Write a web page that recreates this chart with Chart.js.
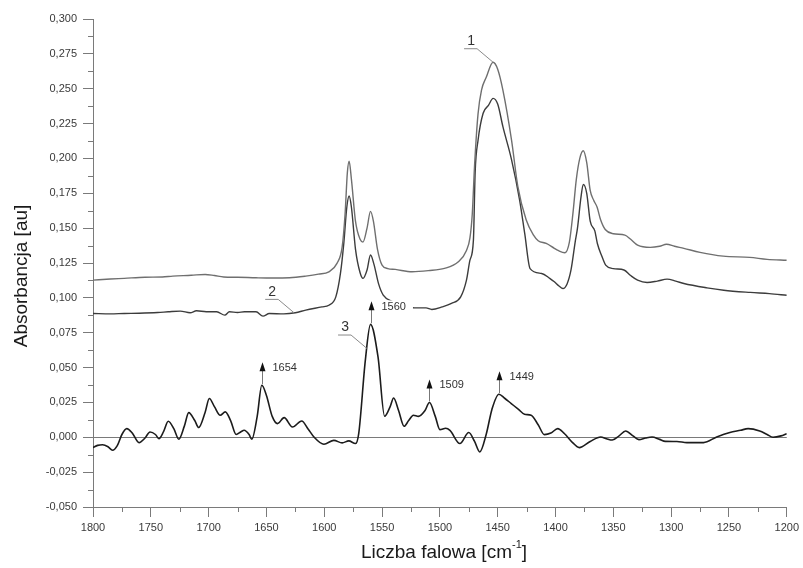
<!DOCTYPE html>
<html lang="pl">
<head>
    <meta charset="UTF-8">
    <title>Widma absorbancji</title>
    <style>
        html, body {
            margin: 0;
            padding: 0;
            background: #fff;
        }
        canvas {
            display: block;
        }
    </style>
</head>
<body>
    <canvas id="chart" width="803" height="568"></canvas>

    <script src="https://cdn.jsdelivr.net/npm/chart.js@4.4.1/dist/chart.umd.min.js"></script>
    <script>
        // Spectrum 1 (upper, gray)
        const wn1 = [1800, 1785, 1773, 1755, 1740, 1731, 1715, 1703, 1695, 1687, 1675, 1659, 1645, 1630, 1616, 1605,
            1596, 1589, 1584.5, 1582, 1580, 1578.5, 1576.5, 1573, 1569, 1566.5, 1563, 1560, 1557.5, 1554, 1550, 1545,
            1538.5, 1524, 1510, 1496, 1484, 1477, 1474, 1472, 1470, 1467, 1464, 1460, 1454, 1450, 1445.5, 1438,
            1432.6, 1425.4, 1419, 1415, 1408, 1401, 1397.8, 1392, 1388, 1385, 1382, 1379, 1376, 1373, 1370, 1367,
            1364, 1361, 1357, 1350, 1340, 1335, 1329, 1318, 1310, 1304, 1297, 1289, 1275, 1255, 1232, 1217, 1200];
        const abs1 = [0.1127, 0.1135, 0.1140, 0.1148, 0.1150, 0.1156, 0.1162, 0.1168, 0.1160, 0.1150, 0.1148, 0.1144, 0.1142, 0.1144, 0.1156, 0.1170,
            0.1187, 0.1247, 0.1366, 0.160, 0.190, 0.198, 0.185, 0.155, 0.142, 0.140, 0.150, 0.162, 0.155, 0.135, 0.1235, 0.121,
            0.1204, 0.1187, 0.1195, 0.1211, 0.1259, 0.134, 0.143, 0.160, 0.195, 0.232, 0.249, 0.258, 0.269, 0.264, 0.249, 0.213,
            0.180, 0.156, 0.145, 0.141, 0.139, 0.1355, 0.134, 0.1323, 0.140, 0.160, 0.185, 0.200, 0.2055, 0.197, 0.177, 0.170,
            0.165, 0.156, 0.149, 0.146, 0.145, 0.142, 0.1378, 0.1362, 0.137, 0.1385, 0.137, 0.1355, 0.1326, 0.1299, 0.129, 0.1276, 0.127];

        // Spectrum 2 (middle, dark)
        const wn2 = [1800, 1785, 1773, 1760, 1744, 1735, 1724.5, 1716, 1710.5, 1702, 1693, 1686, 1682, 1675, 1669, 1659,
            1653, 1647.5, 1635, 1625, 1616, 1602, 1596, 1590, 1586, 1583, 1580.5, 1578.5, 1576.5, 1573, 1569, 1566.5,
            1563, 1560, 1557, 1553, 1549, 1540, 1530, 1522, 1512, 1507, 1498, 1490, 1482, 1477, 1474, 1471,
            1469.5, 1467, 1462.6, 1458, 1454, 1450, 1445.5, 1438, 1431, 1426.6, 1422, 1412, 1405, 1401, 1397, 1393.6,
            1390, 1386.6, 1383, 1381, 1378, 1376, 1373, 1370, 1366, 1363.8, 1360, 1356.6, 1350, 1340.8, 1335, 1329,
            1320.8, 1312, 1303.5, 1296, 1289, 1269, 1254.5, 1231.6, 1215, 1200];
        const abs2 = [0.0888, 0.0885, 0.0888, 0.0890, 0.0895, 0.0900, 0.0905, 0.0893, 0.0907, 0.0900, 0.0900, 0.0876, 0.0900, 0.0895, 0.0900, 0.0900,
            0.0869, 0.0888, 0.0885, 0.0893, 0.0912, 0.0935, 0.0947, 0.1007, 0.1175, 0.140, 0.165, 0.173, 0.165, 0.135, 0.118, 0.114,
            0.120, 0.1307, 0.124, 0.110, 0.102, 0.097, 0.094, 0.0928, 0.0928, 0.0917, 0.0935, 0.0960, 0.1007, 0.1127, 0.127, 0.1414,
            0.190, 0.213, 0.2324, 0.238, 0.2431, 0.239, 0.2228, 0.199, 0.170, 0.146, 0.121, 0.1175, 0.114, 0.1115, 0.1085, 0.1067,
            0.110, 0.120, 0.140, 0.150, 0.172, 0.1814, 0.175, 0.155, 0.148, 0.139, 0.130, 0.1235, 0.121, 0.120, 0.116, 0.1127,
            0.111, 0.112, 0.1134, 0.112, 0.1103, 0.1072, 0.1055, 0.1039, 0.103, 0.1019];

        // Spectrum 3 (difference, black)
        const wn3 = [1800, 1796, 1791.7, 1787, 1783.1, 1779, 1775, 1770.8, 1766, 1760.2, 1755, 1750.7, 1746, 1743, 1739, 1734.9,
            1730, 1725.8, 1721, 1717.2, 1712, 1708.6, 1703, 1699.4, 1695, 1690, 1685.6, 1681, 1676.2, 1672, 1669.3, 1665,
            1662.7, 1658, 1654, 1650, 1645, 1640.4, 1634.7, 1627.5, 1619.5, 1614, 1608.9, 1600.3, 1591.7, 1584.5, 1578.8, 1573,
            1570.2, 1564.5, 1560, 1553.5, 1547.8, 1543, 1540, 1535.8, 1530.9, 1527, 1522.9, 1518.6, 1513, 1509, 1504, 1500,
            1495, 1491.3, 1482.7, 1475, 1470, 1465.5, 1459.8, 1455, 1449, 1444, 1438.3, 1432, 1426.8, 1421.1, 1415, 1409.6,
            1404, 1398.1, 1392.4, 1385, 1379.5, 1370, 1360.9, 1356, 1350.9, 1345, 1339.4, 1333, 1327.9, 1322, 1316.5, 1310,
            1305, 1295, 1286.4, 1272, 1260.6, 1249.2, 1240, 1233.4, 1223.4, 1217, 1211.9, 1205, 1200];
        const abs3 = [-0.0074, -0.0058, -0.0053, -0.0068, -0.0093, -0.006, 0.002, 0.0062, 0.003, -0.0038, -0.0005, 0.0038, 0.002, -0.001, 0.004, 0.0115,
            0.006, -0.0014, 0.008, 0.0177, 0.012, 0.007, 0.018, 0.0278, 0.022, 0.0158, 0.0182, 0.012, 0.002, 0.004, 0.005, 0.002,
            -0.0014, 0.015, 0.0373, 0.030, 0.015, 0.0098, 0.0141, 0.0074, 0.0117, 0.006, 0.0002, -0.005, -0.0022, -0.004, -0.0026, -0.0045,
            0.0027, 0.055, 0.081, 0.0576, 0.0151, 0.022, 0.0282, 0.0194, 0.0079, 0.012, 0.0158, 0.015, 0.019, 0.025, 0.015, 0.0055,
            0.0065, 0.005, -0.0045, 0.0034, -0.003, -0.0105, 0.0026, 0.020, 0.0309, 0.028, 0.0242, 0.020, 0.0165, 0.0158, 0.009, 0.0019,
            0.003, 0.0062, 0.0027, -0.004, -0.0074, -0.003, 0.0002, -0.001, -0.002, 0.001, 0.0045, 0.001, -0.0017, -0.0005, 0.0002, -0.0015,
            -0.0029, -0.003, -0.0038, -0.0038, 0.0002, 0.0034, 0.005, 0.0062, 0.0045, 0.002, 0.0, 0.001, 0.0026];

        // Band positions marked with arrows on spectrum 3
        const bandMarks = [1654, 1560, 1509, 1449];
        // Spectrum numbers and the wavenumber their leader lines point to
        const curveTags = ['1', '2', '3'];
        const tagAt = [1454, 1626, 1563];

        const FONT = "'Liberation Sans', Arial, sans-serif";

        function toPoints(xs, ys) {
            return xs.map((x, i) => ({ x: x, y: ys[i] }));
        }

        function valueAt(xs, ys, x) {
            for (let i = 0; i < xs.length - 1; i++) {
                const a = xs[i], b = xs[i + 1];
                if ((x <= a && x >= b) || (x >= a && x <= b)) {
                    const t = (x - a) / (b - a);
                    return ys[i] + t * (ys[i + 1] - ys[i]);
                }
            }
            return ys[ys.length - 1];
        }

        // Minor ticks, zero line, axis titles
        const axesExtras = {
            id: 'axesExtras',
            beforeDatasetsDraw(chart) {
                const { ctx, chartArea, scales: { x, y } } = chart;
                ctx.save();
                ctx.strokeStyle = '#7a7a7a';
                ctx.lineWidth = 1;

                // zero line
                const y0 = Math.round(y.getPixelForValue(0)) + 0.5;
                ctx.beginPath();
                ctx.moveTo(chartArea.left, y0);
                ctx.lineTo(chartArea.right, y0);
                ctx.stroke();

                // minor ticks
                ctx.beginPath();
                for (let v = -0.0375; v < 0.3; v += 0.025) {
                    const py = Math.round(y.getPixelForValue(v)) + 0.5;
                    ctx.moveTo(chartArea.left - 5, py);
                    ctx.lineTo(chartArea.left, py);
                }
                for (let v = 1225; v < 1800; v += 50) {
                    const px = Math.round(x.getPixelForValue(v)) + 0.5;
                    ctx.moveTo(px, chartArea.bottom);
                    ctx.lineTo(px, chartArea.bottom + 5);
                }
                ctx.stroke();

                // axis titles
                ctx.fillStyle = '#1a1a1a';
                ctx.font = '19px ' + FONT;
                ctx.textBaseline = 'middle';

                ctx.save();
                ctx.translate(22, 276);
                ctx.rotate(-Math.PI / 2);
                ctx.textAlign = 'center';
                ctx.fillText('Absorbancja [au]', 0, 0);
                ctx.restore();

                const main = 'Liczba falowa [cm';
                ctx.font = '19px ' + FONT;
                const w1 = ctx.measureText(main).width;
                ctx.font = '11px ' + FONT;
                const w2 = ctx.measureText('-1').width;
                ctx.font = '19px ' + FONT;
                const w3 = ctx.measureText(']').width;
                let tx = 444 - (w1 + w2 + w3) / 2;
                const ty = 553;
                ctx.textAlign = 'left';
                ctx.fillText(main, tx, ty);
                tx += w1;
                ctx.font = '11px ' + FONT;
                ctx.fillText('-1', tx, ty - 8);
                tx += w2;
                ctx.font = '19px ' + FONT;
                ctx.fillText(']', tx, ty);
                ctx.restore();
            }
        };

        // Band arrows and spectrum numbers
        const annotations = {
            id: 'annotations',
            afterDatasetsDraw(chart) {
                const { ctx, scales: { x, y } } = chart;
                ctx.save();

                // band arrows on spectrum 3
                bandMarks.forEach((band) => {
                    const px = Math.round(x.getPixelForValue(band)) + 0.5;
                    const py = y.getPixelForValue(valueAt(wn3, abs3, band));
                    ctx.strokeStyle = '#777';
                    ctx.lineWidth = 1;
                    ctx.beginPath();
                    ctx.moveTo(px, py - 1);
                    ctx.lineTo(px, py - 15);
                    ctx.stroke();

                    ctx.fillStyle = '#111';
                    ctx.beginPath();
                    ctx.moveTo(px, py - 23);
                    ctx.lineTo(px - 3, py - 14);
                    ctx.lineTo(px + 3, py - 14);
                    ctx.closePath();
                    ctx.fill();

                    ctx.font = '11px ' + FONT;
                    ctx.textAlign = 'left';
                    ctx.textBaseline = 'middle';
                    const label = String(band);
                    const lw = ctx.measureText(label).width;
                    ctx.fillStyle = '#fff';
                    ctx.fillRect(px + 9, py - 24, lw + 8, 13);
                    ctx.fillStyle = '#333';
                    ctx.fillText(label, px + 10, py - 17.5);
                });

                // spectrum numbers with leader lines
                const sets = [[wn1, abs1], [wn2, abs2], [wn3, abs3]];
                curveTags.forEach((tag, i) => {
                    const px = x.getPixelForValue(tagAt[i]);
                    const py = y.getPixelForValue(valueAt(sets[i][0], sets[i][1], tagAt[i]));
                    ctx.strokeStyle = '#8a8a8a';
                    ctx.lineWidth = 1;
                    ctx.beginPath();
                    ctx.moveTo(px - 29, py - 13.5);
                    ctx.lineTo(px - 16, py - 13.5);
                    ctx.lineTo(px, py);
                    ctx.stroke();

                    ctx.fillStyle = '#333';
                    ctx.font = '14px ' + FONT;
                    ctx.textAlign = 'center';
                    ctx.textBaseline = 'bottom';
                    ctx.fillText(tag, px - 22, py - 14);
                });

                ctx.restore();
            }
        };

        const lineStyle = {
            pointRadius: 0,
            fill: false,
            cubicInterpolationMode: 'monotone'
        };

        const chartConfig = {
            type: 'line',
            data: {
                datasets: [
                    Object.assign({ label: '1', data: toPoints(wn1, abs1), borderColor: '#6f6f6f', borderWidth: 1.4 }, lineStyle),
                    Object.assign({ label: '2', data: toPoints(wn2, abs2), borderColor: '#3c3c3c', borderWidth: 1.4 }, lineStyle),
                    Object.assign({ label: '3', data: toPoints(wn3, abs3), borderColor: '#1c1c1c', borderWidth: 1.6 }, lineStyle)
                ]
            },
            options: {
                responsive: false,
                animation: false,
                devicePixelRatio: 1,
                layout: {
                    padding: { top: 19, right: 13, left: 0, bottom: 0 }
                },
                plugins: {
                    legend: { display: false },
                    tooltip: { enabled: false }
                },
                scales: {
                    x: {
                        type: 'linear',
                        reverse: true,
                        min: 1200,
                        max: 1800,
                        afterFit: (scale) => { scale.height = 61; },
                        border: { display: true, color: '#7a7a7a', width: 1 },
                        grid: { display: true, drawOnChartArea: false, drawTicks: true, tickLength: 10, color: '#7a7a7a' },
                        ticks: {
                            stepSize: 50,
                            padding: 4,
                            maxRotation: 0,
                            color: '#3a3a3a',
                            font: { family: FONT, size: 11 },
                            callback: (v) => String(v)
                        }
                    },
                    y: {
                        min: -0.05,
                        max: 0.3,
                        afterFit: (scale) => { scale.width = 93; },
                        border: { display: true, color: '#7a7a7a', width: 1 },
                        grid: { display: true, drawOnChartArea: false, drawTicks: true, tickLength: 10, color: '#7a7a7a' },
                        ticks: {
                            stepSize: 0.025,
                            padding: 6,
                            color: '#3a3a3a',
                            font: { family: FONT, size: 11 },
                            // tick values come out as e.g. -1e-17 near zero, round before formatting
                            callback: (v) => {
                                const r = Math.round(v * 1000) / 1000;
                                return (r === 0 ? 0 : r).toFixed(3).replace('.', ',');
                            }
                        }
                    }
                }
            },
            plugins: [axesExtras, annotations]
        };

        const chart = new Chart(document.getElementById('chart').getContext('2d'), chartConfig);
    </script>
</body>
</html>
